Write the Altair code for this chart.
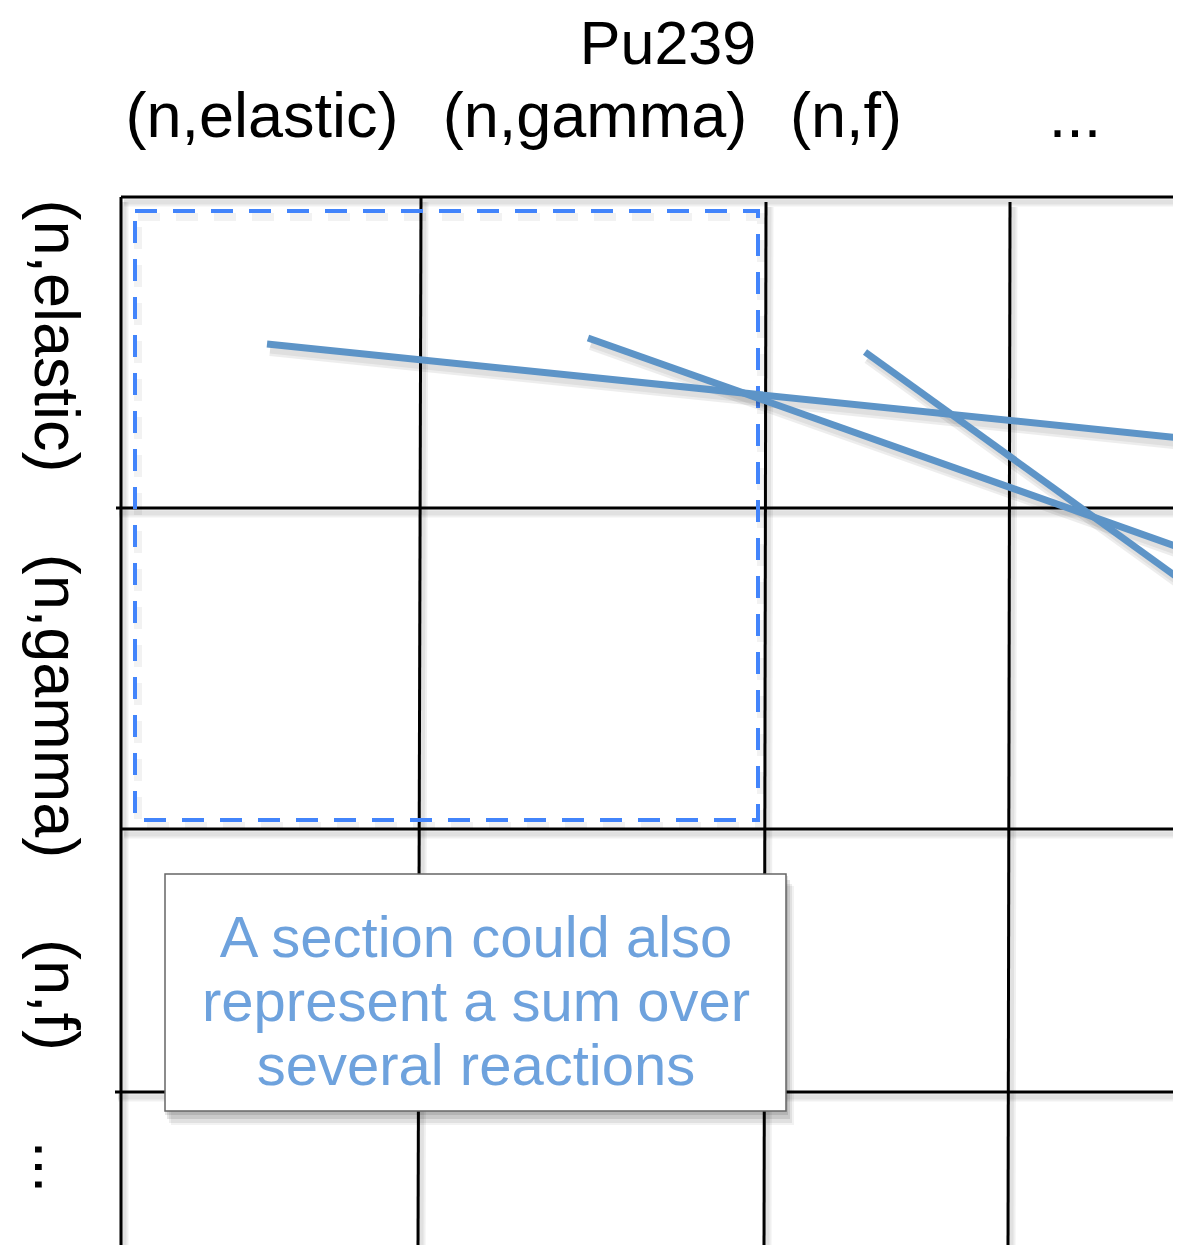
import altair as alt
import pandas as pd

W, H = 1165, 1237  # plot area (page pixels 8..1173, 8..1245)

# ---- diagram data (page-pixel coordinates) ----
# black grid: vertical lines
v_x_top = [121, 421, 766, 1010]
v_x_bot = [121, 418, 764, 1008]
v_y_top = [197, 197, 202, 202]
v_y_bot = [1253, 1253, 1253, 1253]
# black grid: horizontal lines
h_y = [197, 508, 829, 1092]
h_x_left = [121, 116, 121, 115]
h_x_right = [1181, 1181, 1181, 1181]

# blue solid lines (x1, y1, x2, y2)
bl_x1 = [267, 588, 865]
bl_y1 = [344, 338, 352]
bl_x2 = [1181, 1181, 1181]
bl_y2 = [438, 548, 580]

# blue dashed section rectangle
sec_x = [135]
sec_x2 = [758]
sec_y = [211]
sec_y2 = [820]

# callout box
box_x = [165]
box_x2 = [786]
box_y = [874]
box_y2 = [1111]
box_lines = ["A section could also", "represent a sum over", "several reactions"]
box_line_x = [476, 476, 476]
box_line_y = [957, 1021, 1085]

# title label
title_text = ["Pu239"]
title_x = [668]
title_y = [64]

# column header labels
top_labels = ["(n,elastic)", "(n,gamma)", "(n,f)", "..."]
top_x = [262, 595, 846, 1075]
top_y = [137, 137, 137, 137]

# row labels (rotated)
row_labels = ["(n,elastic)", "(n,gamma)", "(n,f)", "..."]
row_x = [35, 35, 35, 35]
row_y = [336, 706, 995, 1167]

xs = alt.Scale(domain=[8, 8 + W], nice=False, zero=False)
ys = alt.Scale(domain=[8, 8 + H], nice=False, zero=False, reverse=True)

def X(f):
    return alt.X(f, type="quantitative", scale=xs, axis=None)

def Y(f):
    return alt.Y(f, type="quantitative", scale=ys, axis=None)

vdf = pd.DataFrame({"x": v_x_top, "x2": v_x_bot, "y": v_y_top, "y2": v_y_bot})
hdf = pd.DataFrame({"x": h_x_left, "x2": h_x_right, "y": h_y, "y2": h_y})
grid = pd.concat([vdf, hdf], ignore_index=True)
grid_sh = grid.assign(x=grid.x + 3, x2=grid.x2 + 3, y=grid.y + 5, y2=grid.y2 + 5)

bdf = pd.DataFrame({"x": bl_x1, "y": bl_y1, "x2": bl_x2, "y2": bl_y2})
bdf_sh = bdf.assign(x=bdf.x + 3, x2=bdf.x2 + 3, y=bdf.y + 6, y2=bdf.y2 + 6)

sec = pd.DataFrame({"x": sec_x, "x2": sec_x2, "y": sec_y, "y2": sec_y2})
sec_sh = sec.assign(x=sec.x + 3, x2=sec.x2 + 3, y=sec.y + 6, y2=sec.y2 + 6)

box = pd.DataFrame({"x": box_x, "x2": box_x2, "y": box_y, "y2": box_y2})
tdf = pd.DataFrame({"t": box_lines, "x": box_line_x, "y": box_line_y})
titledf = pd.DataFrame({"t": title_text, "x": title_x, "y": title_y})
topdf = pd.DataFrame({"t": top_labels, "x": top_x, "y": top_y})
rowdf = pd.DataFrame({"t": row_labels, "x": row_x, "y": row_y})

def rules(df, **kw):
    return alt.Chart(df).mark_rule(**kw).encode(
        x=X("x"), y=Y("y"), x2=alt.X2("x2"), y2=alt.Y2("y2"))

layers = []
# soft shadows of grid
layers.append(rules(grid_sh, color="#000000", opacity=0.06, strokeWidth=9))
layers.append(rules(grid_sh, color="#000000", opacity=0.06, strokeWidth=5))
# grid
layers.append(rules(grid, color="#000000", strokeWidth=3))
# dashed section shadow + rect
layers.append(alt.Chart(sec_sh).mark_rect(filled=False, stroke="#000000", strokeOpacity=0.05,
                                          strokeWidth=8, strokeDash=[22, 16]).encode(
    x=X("x"), x2=alt.X2("x2"), y=Y("y"), y2=alt.Y2("y2")))
layers.append(alt.Chart(sec).mark_rect(filled=False, stroke="#4284fb", strokeWidth=4,
                                       strokeDash=[22, 16]).encode(
    x=X("x"), x2=alt.X2("x2"), y=Y("y"), y2=alt.Y2("y2")))
# blue lines with shadow
layers.append(rules(bdf_sh, color="#000000", opacity=0.07, strokeWidth=12))
layers.append(rules(bdf_sh, color="#000000", opacity=0.06, strokeWidth=7))
layers.append(rules(bdf, color="#5d94c7", strokeWidth=7, strokeCap="butt"))

# callout box shadow
for dx, dy, op in [(2, 4, 0.10), (4, 8, 0.10), (6, 12, 0.07), (8, 14, 0.05)]:
    sh = box.assign(x=box.x + dx - 2, x2=box.x2 + dx, y=box.y + dy - 2, y2=box.y2 + dy)
    layers.append(alt.Chart(sh).mark_rect(color="#000000", opacity=op).encode(
        x=X("x"), x2=alt.X2("x2"), y=Y("y"), y2=alt.Y2("y2")))
layers.append(alt.Chart(box).mark_rect(fill="#ffffff", stroke="#666666", strokeWidth=1.5).encode(
    x=X("x"), x2=alt.X2("x2"), y=Y("y"), y2=alt.Y2("y2")))

# callout text
layers.append(alt.Chart(tdf).mark_text(font="Liberation Sans", fontSize=58, align="center",
                                       baseline="alphabetic", color="#6ea2dd").encode(
    x=X("x"), y=Y("y"), text="t:N"))

# title
layers.append(alt.Chart(titledf).mark_text(font="Liberation Sans", fontSize=61, align="center",
                                           baseline="alphabetic", color="#000000").encode(
    x=X("x"), y=Y("y"), text="t:N"))
# header labels
layers.append(alt.Chart(topdf).mark_text(font="Liberation Sans", fontSize=63, align="center",
                                         baseline="alphabetic", color="#000000").encode(
    x=X("x"), y=Y("y"), text="t:N"))
# row labels rotated
layers.append(alt.Chart(rowdf).mark_text(font="Liberation Sans", fontSize=63, align="center",
                                         baseline="alphabetic", angle=90, color="#000000").encode(
    x=X("x"), y=Y("y"), text="t:N"))

chart = alt.layer(*layers).properties(
    width=W, height=H, padding=0, autosize=alt.AutoSizeParams(type="none"),
    background="#ffffff",
).configure_view(stroke=None)

chart.save("out.html", embed_options={"renderer": "svg", "actions": False})
